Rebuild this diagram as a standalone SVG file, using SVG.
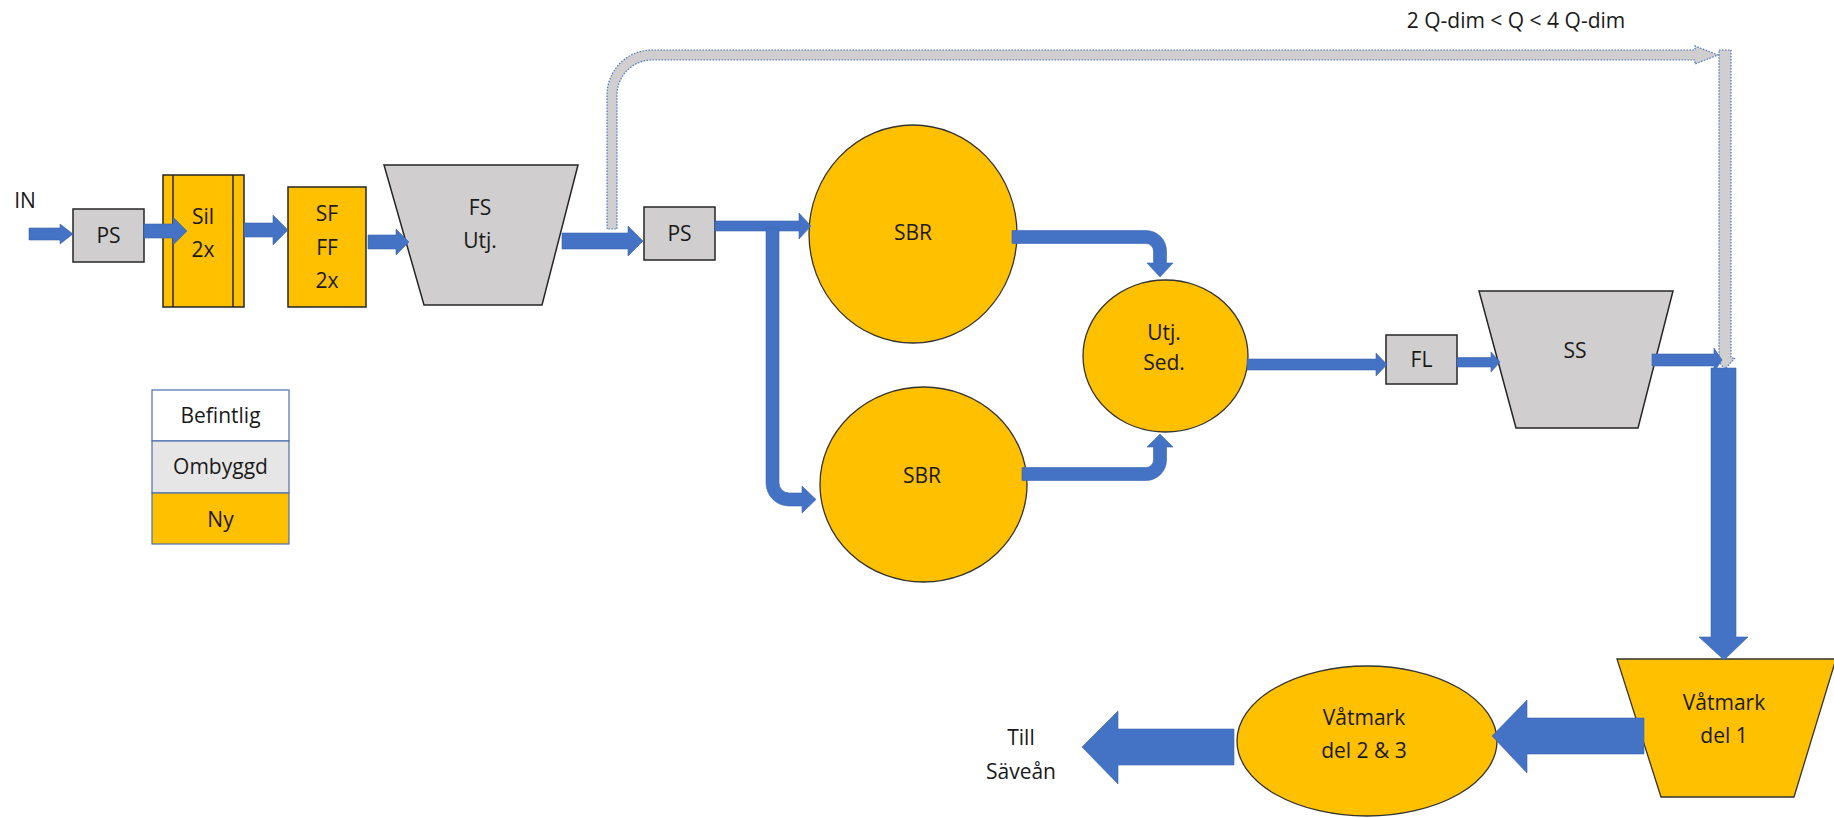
<svg xmlns="http://www.w3.org/2000/svg" width="1834" height="818" viewBox="0 0 1834 818">
  <style>
    text { font-family: "Open Sans", "Liberation Sans", sans-serif; font-size: 21px; fill: #1a1a1a; text-anchor: middle; }
    .gray { fill: #d0cece; stroke: #262626; stroke-width: 1.5; }
    .new { fill: #ffc000; stroke: #262626; stroke-width: 1.5; }
    .tank { fill: #ffc000; stroke: #333333; stroke-width: 1.3; }
    .flow { fill: #4472c4; stroke: #3b65b0; stroke-width: 0.6; }
    .bypass { fill: #d0cece; stroke: #4472c4; stroke-width: 1.2; stroke-dasharray: 1.5 1.5; }
    .legend { stroke: #4a6fb0; stroke-width: 1.2; }
  </style>
  <rect width="1834" height="818" fill="#ffffff"/>

  <!-- process units -->
  <g id="ps-in">
    <rect class="gray" x="73" y="209" width="71" height="53"/>
    <text x="108.5" y="243">PS</text>
  </g>
  <g id="sil">
    <rect class="new" x="163" y="175" width="81" height="132"/>
    <line x1="173" y1="175" x2="173" y2="307" stroke="#262626" stroke-width="1.5"/>
    <line x1="233" y1="175" x2="233" y2="307" stroke="#262626" stroke-width="1.5"/>
    <text x="203" y="224">Sil</text>
    <text x="203" y="257">2x</text>
  </g>
  <g id="sf-ff">
    <rect class="new" x="288" y="187" width="78" height="120"/>
    <text x="327" y="221">SF</text>
    <text x="327" y="254.5">FF</text>
    <text x="327" y="288">2x</text>
  </g>
  <g id="fs">
    <polygon class="gray" points="384,165 578,165 542,305 424,305"/>
    <text x="480" y="215">FS</text>
    <text x="480" y="248">Utj.</text>
  </g>
  <g id="ps-main">
    <rect class="gray" x="644" y="207" width="71" height="53"/>
    <text x="679.5" y="241">PS</text>
  </g>
  <g id="sbr-1">
    <ellipse class="tank" cx="913" cy="234" rx="104" ry="109"/>
    <text x="913" y="240">SBR</text>
  </g>
  <g id="sbr-2">
    <ellipse class="tank" cx="923.5" cy="484.5" rx="103.5" ry="97.5"/>
    <text x="922" y="483">SBR</text>
  </g>
  <g id="utj-sed">
    <ellipse class="tank" cx="1165.5" cy="356" rx="82.5" ry="76"/>
    <text x="1164" y="340">Utj.</text>
    <text x="1164" y="370">Sed.</text>
  </g>
  <g id="fl">
    <rect class="gray" x="1386" y="335" width="71" height="49"/>
    <text x="1421.5" y="367">FL</text>
  </g>
  <g id="ss">
    <polygon class="gray" points="1479,291 1673,291 1638,428 1516,428"/>
    <text x="1575" y="358">SS</text>
  </g>
  <g id="vatmark-1">
    <polygon class="tank" points="1617,659 1836,659 1794,797 1661,797"/>
    <text x="1724" y="710">Våtmark</text>
    <text x="1724" y="743">del 1</text>
  </g>
  <g id="vatmark-2-3">
    <ellipse class="tank" cx="1367" cy="741" rx="130" ry="75"/>
    <text x="1364" y="725">Våtmark</text>
    <text x="1364" y="758">del 2 &amp; 3</text>
  </g>
  <g id="label-in">
    <text x="25" y="208">IN</text>
  </g>
  <g id="label-outlet">
    <text x="1021" y="745">Till</text>
    <text x="1021" y="779">Säveån</text>
  </g>
  <g id="label-bypass">
    <text x="1516" y="28">2 Q-dim &lt; Q &lt; 4 Q-dim</text>
  </g>

  <!-- legend -->
  <g id="legend">
    <rect class="legend" x="152" y="390" width="137" height="51" fill="#ffffff"/>
    <rect class="legend" x="152" y="441" width="137" height="52" fill="#e7e6e6"/>
    <rect class="legend" x="152" y="493" width="137" height="51" fill="#ffc000"/>
    <text x="220.5" y="423">Befintlig</text>
    <text x="220.5" y="474">Ombyggd</text>
    <text x="220.5" y="527">Ny</text>
  </g>

  <!-- flow connectors -->
  <g id="connectors">
    <!-- high-flow bypass -->
    <path class="bypass" d="M607,229 L607,95 A45,45 0 0 1 652,50 L1695,50 L1695,46 L1718,55 L1695,64 L1695,60 L652,60 A35,35 0 0 0 617,95 L617,229 Z"/>
    <path class="bypass" d="M1719,50 L1731,50 L1731,358 L1735,358 L1725,369 L1715,358 L1719,358 Z"/>

    <path class="flow" d="M29,228 L60,228 L60,224 L73,234 L60,244 L60,240 L29,240 Z"/>
    <path class="flow" d="M144,224 L173,224 L173,217 L187,231 L173,245 L173,238 L144,238 Z"/>
    <path class="flow" d="M244,223 L273,223 L273,215 L288,230 L273,245 L273,237 L244,237 Z"/>
    <path class="flow" d="M368,235 L396,235 L396,229 L409,242 L396,255 L396,249 L368,249 Z"/>
    <path class="flow" d="M562,233 L628,233 L628,226 L643,241 L628,256 L628,249 L562,249 Z"/>
    <path class="flow" d="M715,221 L799,221 L799,213 L811,226 L799,239 L799,231 L715,231 Z"/>
    <path class="flow" d="M766,228 L779,228 L779,483 A10,10 0 0 0 789,493 L802,493 L802,486 L816,499.5 L802,513 L802,506 L789,506 A23,23 0 0 1 766,483 Z"/>
    <path class="flow" d="M1012,230.5 L1146,230.5 A20.5,20.5 0 0 1 1166.5,251 L1166.5,263 L1173,263 L1160,277 L1147,263 L1153.5,263 L1153.5,251 A7.5,7.5 0 0 0 1146,243.5 L1012,243.5 Z"/>
    <path class="flow" d="M1022,467.5 L1146,467.5 A7.5,7.5 0 0 0 1153.5,460 L1153.5,447 L1147,447 L1160,434 L1173,447 L1166.5,447 L1166.5,460 A20.5,20.5 0 0 1 1146,480.5 L1022,480.5 Z"/>
    <path class="flow" d="M1247,359 L1376,359 L1376,353 L1387,364.5 L1376,376 L1376,370 L1247,370 Z"/>
    <path class="flow" d="M1457,357.5 L1491,357.5 L1491,352 L1500,362 L1491,372 L1491,367 L1457,367 Z"/>
    <path class="flow" d="M1652,354 L1714,354 L1714,348 L1722,360 L1714,372 L1714,366 L1652,366 Z"/>
    <path class="flow" d="M1711,368 L1736,368 L1736,637 L1748,637 L1724,660 L1699,637 L1711,637 Z"/>
    <path class="flow" d="M1644,718 L1527,718 L1527,700 L1492,736 L1527,773 L1527,754 L1644,754 Z"/>
    <path class="flow" d="M1234,729 L1118,729 L1118,711 L1082,747 L1118,784 L1118,765 L1234,765 Z"/>
  </g>
</svg>
